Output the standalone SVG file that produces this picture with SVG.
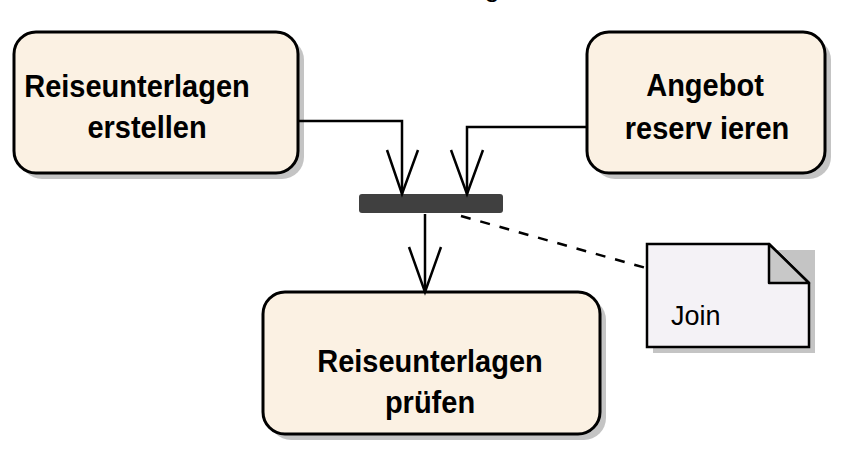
<svg xmlns="http://www.w3.org/2000/svg" width="841" height="459" viewBox="0 0 841 459">
<style>
.box{fill:#fbf1e3;stroke:#000;stroke-width:3}
.shadow{fill:#c4c4c4}
.lbl{font-family:"Liberation Sans",Arial,sans-serif;font-weight:bold;font-size:29px;fill:#000;text-anchor:middle}
.edge{fill:none;stroke:#000;stroke-width:2.5}
.head{fill:none;stroke:#000;stroke-width:2.5}
</style>
<rect width="841" height="459" fill="#fff"/>
<text x="492" y="-4" font-family="Liberation Sans, Arial, sans-serif" font-size="28" fill="#000" text-anchor="middle">g</text>
<g id="n1">
<rect class="shadow" x="20" y="38" width="284" height="141" rx="22"/>
<rect class="box" x="14" y="32" width="284" height="141" rx="22"/>
<text class="lbl" transform="translate(137,97) scale(1,1.06)">Reiseunterlagen</text>
<text class="lbl" transform="translate(147,138) scale(1,1.06)">erstellen</text>
</g>
<g id="n2">
<rect class="shadow" x="593" y="38" width="238" height="141" rx="22"/>
<rect class="box" x="587" y="32" width="238" height="141" rx="22"/>
<text class="lbl" transform="translate(705,96) scale(1,1.06)">Angebot</text>
<text class="lbl" transform="translate(707,139) scale(1,1.06)">reserv ieren</text>
</g>
<g id="n3">
<rect class="shadow" x="269" y="298" width="337" height="142" rx="22"/>
<rect class="box" x="263" y="292" width="337" height="142" rx="22"/>
<text class="lbl" transform="translate(430,372) scale(1,1.06)">Reiseunterlagen</text>
<text class="lbl" transform="translate(430,413) scale(1,1.06)">prüfen</text>
</g>
<g id="join">
<rect x="359" y="194" width="144" height="19" rx="3" fill="#404040"/>
</g>
<g id="note">
<path d="M653 250 H815 V353 H653 Z" fill="#c4c4c4"/>
<path d="M647 244 H769 L809 283 V347 H647 Z" fill="#f4f2f6" stroke="#000" stroke-width="2.5"/>
<path d="M769 244 V283 H809 Z" fill="#c8c8c8" stroke="#000" stroke-width="2.5" stroke-linejoin="round"/>
<text x="671" y="325" font-family="Liberation Sans, Arial, sans-serif" font-size="27" fill="#000">Join</text>
</g>
<g id="connectors">
<path class="edge" d="M299 121 H402 V194"/>
<path class="head" d="M387 150 L402 194 L418 150"/>
<path class="edge" d="M586 127 H467 V194"/>
<path class="head" d="M451 150 L467 194 L483 150"/>
<path class="edge" d="M425 214 V292"/>
<path class="head" d="M409 247 L425 292 L441 247"/>
<path class="edge" d="M461 216 L646 268" stroke-dasharray="10 10"/>
</g>
</svg>
